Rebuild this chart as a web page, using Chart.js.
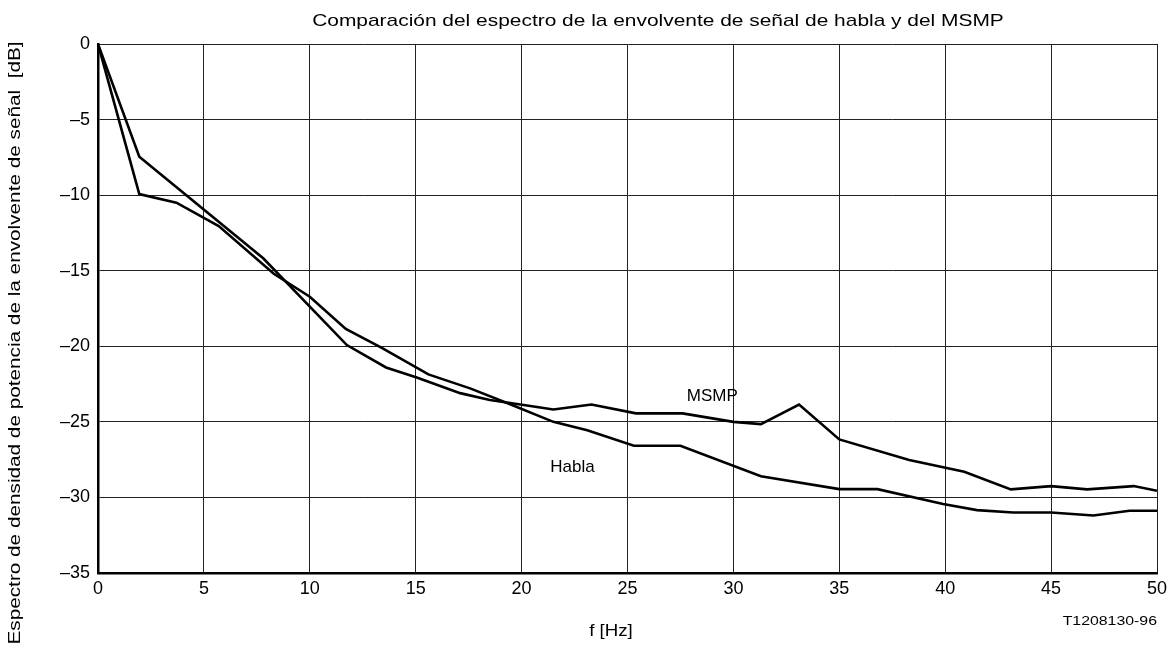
<!DOCTYPE html>
<html>
<head>
<meta charset="utf-8">
<script src="https://cdn.jsdelivr.net/npm/chart.js@4.4.1/dist/chart.umd.min.js"></script>
<style>
  html, body { margin: 0; padding: 0; background: #fff; }
  #wrap { width: 1170px; height: 664px; position: relative; }
</style>
</head>
<body>
<div id="wrap"><canvas id="c" width="1170" height="664"></canvas></div>
<script>
// Data
const hablaX = [0, 1.95, 3.7, 5.7, 8.3, 10.0, 11.7, 13.4, 15.6, 17.6, 19.4, 21.5, 23.1, 25.3, 27.5, 31.3, 35.0, 36.8, 39.9, 41.5, 43.2, 45.0, 47.0, 48.7, 50];
const hablaY = [0, -9.93, -10.5, -12.05, -15.2, -16.72, -18.85, -20.1, -21.86, -22.8, -23.8, -25.0, -25.55, -26.58, -26.58, -28.6, -29.45, -29.45, -30.44, -30.84, -31.0, -31.0, -31.2, -30.88, -30.88];
const msmpX = [0, 1.95, 7.8, 11.75, 13.6, 15.05, 17.1, 18.5, 20.1, 21.5, 23.3, 25.4, 27.6, 30.0, 31.3, 33.1, 35.0, 38.3, 40.9, 43.1, 45.0, 46.7, 48.9, 50];
const msmpY = [0, -7.46, -14.18, -19.92, -21.4, -22.06, -23.1, -23.56, -23.89, -24.18, -23.85, -24.44, -24.44, -25.0, -25.15, -23.85, -26.16, -27.53, -28.3, -29.47, -29.25, -29.47, -29.25, -29.56];
const xTicks = [0, 5, 10, 15, 20, 25, 30, 35, 40, 45, 50];
const yTicks = [0, -5, -10, -15, -20, -25, -30, -35];
const titleText = 'Comparación del espectro de la envolvente de señal de habla y del MSMP';
const xTitle = 'f [Hz]';
const yTitle = 'Espectro de densidad de potencia de la envolvente de señal  [dB]';
const code = 'T1208130-96';
const labels = [{ text: 'MSMP', x: 29.0, y: -23.3 }, { text: 'Habla', x: 22.4, y: -28.0 }];

const FONT = '"Liberation Sans", Arial, sans-serif';
const toPts = (xs, ys) => xs.map((x, i) => ({ x: x, y: ys[i] }));
const fmt = v => (v < 0 ? '\u2013' + Math.abs(v) : String(v));

function stretchedText(ctx, text, x, y, size, sx, align, rot) {
  ctx.save();
  ctx.translate(x, y);
  if (rot) ctx.rotate(rot);
  ctx.scale(sx, 1);
  ctx.font = size + 'px ' + FONT;
  ctx.textAlign = align;
  ctx.textBaseline = 'middle';
  ctx.fillStyle = '#000';
  ctx.fillText(text, 0, 0);
  ctx.restore();
}

const textPlugin = {
  id: 'texts',
  afterDraw(chart) {
    const ctx = chart.ctx;
    const xs = chart.scales.x, ys = chart.scales.y;
    stretchedText(ctx, titleText, 658, 21, 17, 1.23, 'center', 0);
    stretchedText(ctx, xTitle, 611, 631, 17, 1.1, 'center', 0);
    labels.forEach(l => stretchedText(ctx, l.text, xs.getPixelForValue(l.x), ys.getPixelForValue(l.y), 17, 1.0, 'center', 0));
    stretchedText(ctx, code, 1157, 621, 13, 1.22, 'right', 0);
    stretchedText(ctx, yTitle, 15, 343, 17, 1.22, 'center', -Math.PI / 2);
  }
};

new Chart(document.getElementById('c'), {
  type: 'line',
  data: {
    datasets: [
      { label: 'Habla', data: toPts(hablaX, hablaY), borderColor: '#000', borderWidth: 2.6, pointRadius: 0, tension: 0, fill: false },
      { label: 'MSMP', data: toPts(msmpX, msmpY), borderColor: '#000', borderWidth: 2.6, pointRadius: 0, tension: 0, fill: false }
    ]
  },
  options: {
    responsive: false,
    animation: false,
    devicePixelRatio: 1,
    layout: { padding: { top: 44, right: 13, left: 0, bottom: 0 } },
    plugins: { legend: { display: false }, title: { display: false }, tooltip: { enabled: false } },
    scales: {
      x: {
        type: 'linear', min: 0, max: 50,
        afterBuildTicks: s => { s.ticks = xTicks.map(v => ({ value: v })); },
        afterFit: s => { s.height = 91; s.paddingLeft = 0; s.paddingRight = 0; },
        ticks: { color: '#000', font: { family: FONT, size: 18 }, padding: 5, maxRotation: 0 },
        grid: { color: '#222', lineWidth: 1, drawTicks: false },
        border: { color: '#000', width: 2.5 }
      },
      y: {
        type: 'linear', min: -35, max: 0,
        afterBuildTicks: s => { s.ticks = yTicks.map(v => ({ value: v })); },
        afterFit: s => { s.width = 98; s.paddingTop = 0; s.paddingBottom = 0; },
        ticks: { color: '#000', font: { family: FONT, size: 18 }, padding: 8, callback: v => fmt(v) },
        grid: { color: '#222', lineWidth: 1, drawTicks: false },
        border: { color: '#000', width: 2.5 }
      }
    }
  },
  plugins: [textPlugin]
});
</script>
</body>
</html>
